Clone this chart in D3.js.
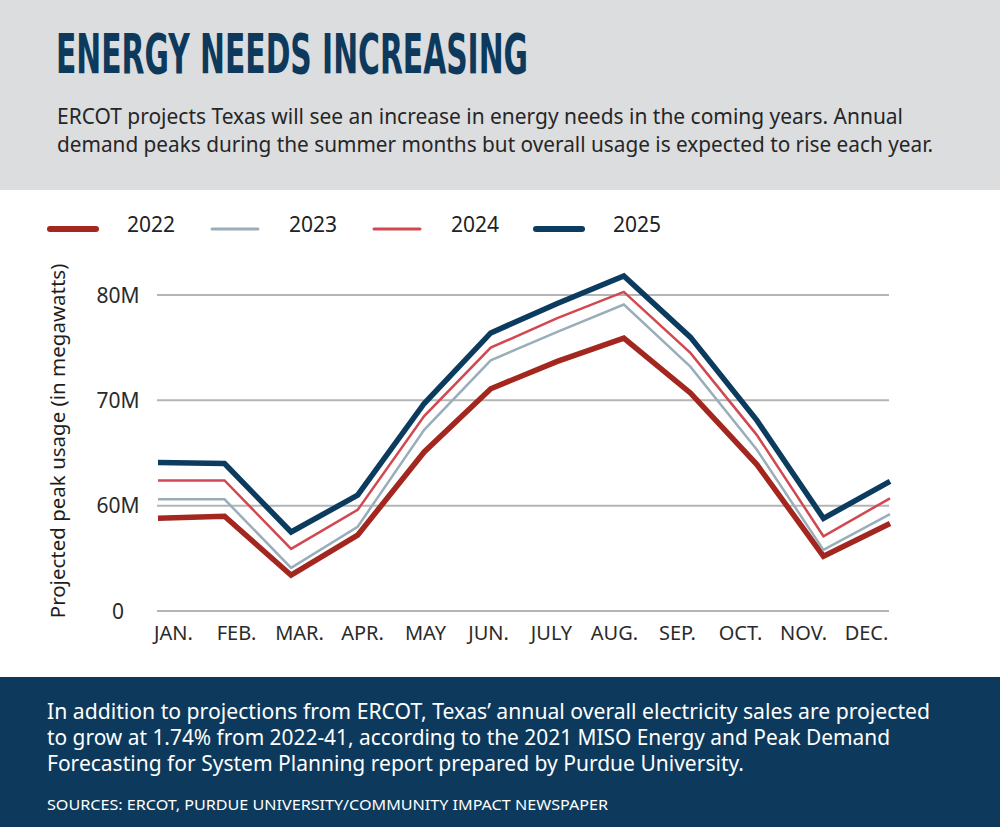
<!DOCTYPE html>
<html>
<head>
<meta charset="utf-8">
<script src="https://cdn.jsdelivr.net/npm/d3@7"></script>
<style>
  body { margin: 0; background: #fff; }
  svg { display: block; }
  .sans { font-family: "Noto Sans", "Open Sans", sans-serif; }
</style>
</head>
<body>
<div id="app"></div>
<script>
// chart data
const months = ["JAN.", "FEB.", "MAR.", "APR.", "MAY", "JUN.", "JULY", "AUG.", "SEP.", "OCT.", "NOV.", "DEC."];
const years = ["2022", "2023", "2024", "2025"];
const demand2022 = [58.8, 59.0, 53.4, 57.2, 65.1, 71.1, 73.7, 75.9, 70.7, 63.9, 55.2, 58.3];
const demand2023 = [60.6, 60.6, 54.1, 58.0, 67.2, 73.8, 76.5, 79.1, 73.2, 65.3, 55.8, 59.2];
const demand2024 = [62.4, 62.4, 55.9, 59.6, 68.5, 75.0, 77.8, 80.3, 74.5, 66.7, 57.1, 60.7];
const demand2025 = [64.1, 64.0, 57.5, 61.0, 69.7, 76.4, 79.2, 81.8, 76.0, 68.1, 58.8, 62.3];
const yTicks = [50, 60, 70, 80];
const yTickLabels = ["0", "60M", "70M", "80M"];

function plotChart() {
    const svgWidth = 1000;
    const svgHeight = 827;
    const navy = "#0d3a5c";

    const seriesList = [
        { year: years[0], values: demand2022, color: "#a3271f", width: 5.5 },
        { year: years[1], values: demand2023, color: "#9aaeb9", width: 2.5 },
        { year: years[2], values: demand2024, color: "#d24850", width: 2.5 },
        { year: years[3], values: demand2025, color: "#0b3c5f", width: 5.5 }
    ];

    const svg = d3.select("#app").append("svg")
        .attr("width", svgWidth)
        .attr("height", svgHeight);

    // header band
    svg.append("rect")
        .attr("width", svgWidth).attr("height", 190)
        .attr("fill", "#dcdddf");

    svg.append("text")
        .attr("x", 56).attr("y", 73)
        .attr("textLength", 472)
        .attr("lengthAdjust", "spacingAndGlyphs")
        .style("font-family", "'DejaVu Sans Condensed', 'DejaVu Sans', sans-serif")
        .style("font-weight", "bold")
        .style("font-size", "56px")
        .attr("fill", navy)
        .text("ENERGY NEEDS INCREASING");

    const intro = [
        ["ERCOT projects Texas will see an increase in energy needs in the coming years. Annual", 846],
        ["demand peaks during the summer months but overall usage is expected to rise each year.", 876]
    ];
    svg.selectAll(".intro")
        .data(intro)
        .enter().append("text")
        .classed("sans", true)
        .attr("x", 57)
        .attr("y", (d, i) => 124 + i * 28)
        .attr("textLength", d => d[1])
        .attr("lengthAdjust", "spacingAndGlyphs")
        .style("font-size", "21px")
        .attr("fill", "#262626")
        .text(d => d[0]);

    // footer band
    svg.append("rect")
        .attr("y", 677).attr("width", svgWidth).attr("height", svgHeight - 677)
        .attr("fill", navy);

    const note = [
        ["In addition to projections from ERCOT, Texas\u2019 annual overall electricity sales are projected", 883],
        ["to grow at 1.74% from 2022-41, according to the 2021 MISO Energy and Peak Demand", 843],
        ["Forecasting for System Planning report prepared by Purdue University.", 697]
    ];
    svg.selectAll(".note")
        .data(note)
        .enter().append("text")
        .classed("sans", true)
        .attr("x", 47)
        .attr("y", (d, i) => 719 + i * 26)
        .attr("textLength", d => d[1])
        .attr("lengthAdjust", "spacingAndGlyphs")
        .style("font-size", "21px")
        .attr("fill", "#fff")
        .text(d => d[0]);

    svg.append("text")
        .classed("sans", true)
        .attr("x", 47).attr("y", 810)
        .attr("textLength", 561)
        .attr("lengthAdjust", "spacingAndGlyphs")
        .style("font-size", "15px")
        .attr("fill", "#fff")
        .text("SOURCES: ERCOT, PURDUE UNIVERSITY/COMMUNITY IMPACT NEWSPAPER");

    // scales
    const xFunction = d3.scalePoint()
        .domain(months)
        .range([158, 890]);

    const xLabelFunction = d3.scalePoint()
        .domain(months)
        .range([173, 866]);

    const yFunction = d3.scaleLinear()
        .domain([50, 80])
        .range([611, 295]);

    // gridlines
    svg.append("g")
        .selectAll("line")
        .data(yTicks)
        .enter().append("line")
        .attr("x1", 157).attr("x2", 889)
        .attr("y1", d => yFunction(d)).attr("y2", d => yFunction(d))
        .attr("stroke", "#b5b5b5")
        .attr("stroke-width", 2);

    // y tick labels
    svg.append("g")
        .selectAll("text")
        .data(yTicks)
        .enter().append("text")
        .classed("sans", true)
        .attr("x", 118)
        .attr("y", d => yFunction(d))
        .attr("dy", "0.36em")
        .attr("text-anchor", "middle")
        .style("font-size", "21px")
        .attr("fill", "#2a2a2a")
        .text((d, i) => yTickLabels[i]);

    // x axis labels
    const xAxis = d3.axisBottom(xLabelFunction).tickSize(0).tickPadding(0);
    const xg = svg.append("g")
        .attr("transform", "translate(0,626)")
        .call(xAxis);
    xg.select(".domain").remove();
    xg.selectAll("text")
        .attr("class", "sans")
        .attr("dy", "0.71em")
        .style("font-size", "20px")
        .attr("fill", "#2a2a2a");

    // y axis title
    svg.append("text")
        .classed("sans", true)
        .attr("transform", "translate(65,441) rotate(-90)")
        .attr("text-anchor", "middle")
        .style("font-size", "20.5px")
        .attr("fill", "#1e1e1e")
        .text("Projected peak usage (in megawatts)");

    // lines
    const line = d3.line()
        .x((d, i) => xFunction(months[i]))
        .y(d => yFunction(d));

    svg.append("g")
        .selectAll("path")
        .data(seriesList)
        .enter().append("path")
        .attr("d", d => line(d.values))
        .attr("fill", "none")
        .attr("stroke", d => d.color)
        .attr("stroke-width", d => d.width)
        .attr("stroke-linejoin", "miter");

    // legend
    const legendX = d3.scalePoint()
        .domain(years)
        .range([50, 536]);

    const legend = svg.append("g")
        .selectAll("g")
        .data(seriesList)
        .enter().append("g")
        .attr("transform", d => "translate(" + legendX(d.year) + ",229)");

    legend.append("line")
        .attr("x1", 0).attr("x2", 46)
        .attr("stroke", d => d.color)
        .attr("stroke-width", d => d.width + 0.5)
        .attr("stroke-linecap", "round");

    legend.append("text")
        .classed("sans", true)
        .attr("x", 77)
        .attr("dy", "0.12em")
        .style("font-size", "21px")
        .attr("fill", "#222")
        .text(d => d.year);
}

plotChart();
</script>
</body>
</html>
